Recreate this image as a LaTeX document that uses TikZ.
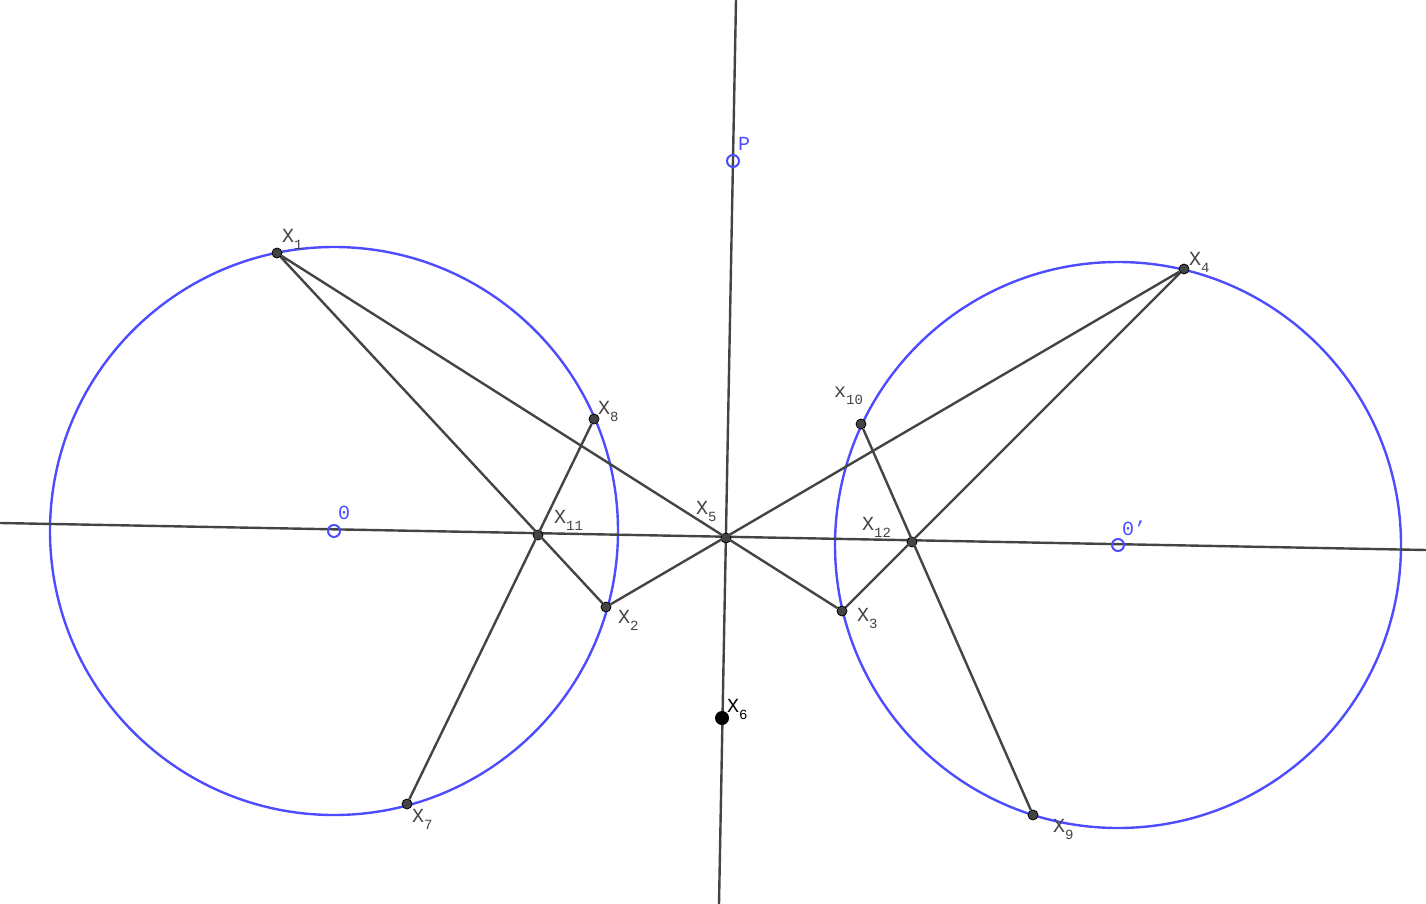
\documentclass[tikz,border=0pt]{standalone}
\usepackage{fontspec}
\setmainfont{Liberation Mono}
\newcommand{\sbs}[1]{\raisebox{-0.35em}{\fontsize{14}{14}\selectfont #1}}
\begin{document}
\begin{tikzpicture}[x=1pt,y=-1pt]
\definecolor{ln}{HTML}{444444}
\definecolor{bl}{HTML}{4D4DFF}
\tikzset{ln/.style={draw=ln,line width=2.4pt},
 pt/.style={circle,fill=ln,draw=black,line width=0.8pt,inner sep=0,minimum size=10pt},
 bp/.style={circle,draw=bl,line width=2pt,inner sep=0,minimum size=12pt},
 lb/.style={font=\fontsize{20}{20}\selectfont,text=ln,inner sep=1pt}}
\useasboundingbox (0,0) rectangle (1426,904);
\draw[bl,line width=2.4pt] (334,531) circle (284);
\draw[bl,line width=2.4pt] (1118,545) circle (283);
\coordinate (h1) at (0,523); \coordinate (h2) at (1426,550);
\coordinate (v1) at (736,0); \coordinate (v2) at (719,904);
\draw[ln] (h1)--(h2); \draw[ln] (v1)--(v2);
\node[pt] (X1) at (277,253) {}; \node[pt] (X8) at (594,419) {};
\node[pt] (X11) at (538,535) {}; \node[pt] (X2) at (606,607) {};
\node[pt] (X7) at (407,804) {}; \node[pt] (X5) at (726,538) {};
\node[pt] (X10) at (861,424) {}; \node[pt] (X12) at (912,542) {};
\node[pt] (X3) at (842,611) {}; \node[pt] (X4) at (1184,269) {};
\node[pt] (X9) at (1033,815) {};
\node[circle,fill=black,inner sep=0,minimum size=14pt] (X6) at (722,718) {};
\node[bp] (P) at (733,161) {}; \node[bp] (O) at (334,531) {}; \node[bp] (Op) at (1118,545) {};
\draw[ln] (X1)--(X3) (X1)--(X2) (X4)--(X2) (X4)--(X3) (X8)--(X7) (X10)--(X9);
\node[lb,anchor=south west] at (281,251) {X\sbs{1}};
\node[lb,anchor=south west] at (597,423) {X\sbs{8}};
\node[lb,anchor=south west] at (553,532) {X\sbs{11}};
\node[lb,anchor=north west] at (617,609) {X\sbs{2}};
\node[lb,anchor=north west] at (411,808) {X\sbs{7}};
\node[lb,anchor=south west] at (695,523) {X\sbs{5}};
\node[lb,anchor=south west] at (833,406) {x\sbs{10}};
\node[lb,anchor=south west] at (861,539) {X\sbs{12}};
\node[lb,anchor=north west] at (856,607) {X\sbs{3}};
\node[lb,anchor=south west] at (1188,274) {X\sbs{4}};
\node[lb,anchor=north west] at (1052,818) {X\sbs{9}};
\node[lb,anchor=south west,text=black] at (726,721) {X\sbs{6}};
\node[lb,anchor=south west,text=bl] at (737,152) {P};
\node[lb,anchor=south west,text=bl] at (337,521) {0};
\node[lb,anchor=south west,text=bl] at (1121,537) {0'};
\end{tikzpicture}
\end{document}
